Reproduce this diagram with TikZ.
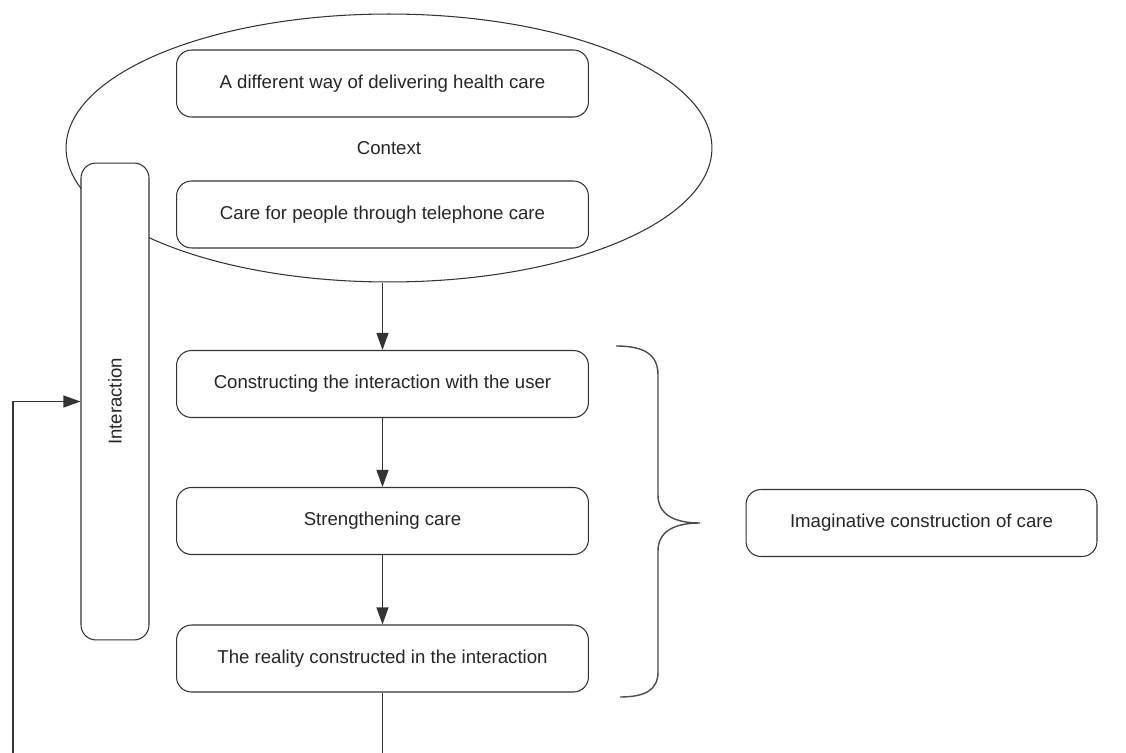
\documentclass[tikz,border=0pt]{standalone}
\usepackage{fontspec}
\setmainfont{Liberation Sans}
\usetikzlibrary{arrows.meta,shapes.geometric}

\begin{document}
\begin{tikzpicture}[x=0.02cm, y=-0.02cm, line width=0.6pt, draw=black!80,
		>={Triangle[length=0.34cm, width=0.24cm]},
		every node/.style={font=\fontsize{10.6}{13}\selectfont, text=black!85},
		stage/.style={draw=black!80, fill=white, rounded corners=0.3cm, minimum width=8.24cm, minimum height=1.34cm},
		ctx/.style={draw=black!80, ellipse, minimum width=12.92cm, minimum height=5.36cm}]
		\useasboundingbox (0, 0) rectangle (1126, 753);
		\node [ctx] (Ctx) at (389, 148) {Context};
		\node [stage] (Diff) at (382.5, 83.5) {A different way of delivering health care};
		\node [stage] (Tel) at (382.5, 214.5) {Care for people through telephone care};
		\node [stage, rotate=90, minimum width=9.54cm, minimum height=1.36cm] (Inter) at (115, 401.5) {Interaction};
		\node [stage] (Cons) at (382.5, 384) {Constructing the interaction with the user};
		\node [stage] (Str) at (382.5, 521) {Strengthening care};
		\node [stage] (Real) at (382.5, 658.5) {The reality constructed in the interaction};
		\node [stage, minimum width=7.02cm] (Imag) at (921.5, 523) {Imaginative construction of care};
		\coordinate (RB) at (382.5, 753);
		\coordinate (LB) at (13, 753);
		\draw [->] (Cons |- Ctx.south) -- (Cons);
		\draw [->] (Cons) -- (Str);
		\draw [->] (Str) -- (Real);
		\draw (Real) -- (RB);
		\draw [->] (LB) |- (Inter.north);
		% brace
		\draw [line width=0.8pt, draw=black!70] (616, 346) .. controls (645, 346) and (658, 355) .. (658, 375) -- (658, 495)
			.. controls (658, 515) and (675, 523) .. (700, 523)
			.. controls (675, 523) and (658, 531) .. (658, 551) -- (658, 672)
			.. controls (658, 690) and (645, 697) .. (620, 697);
\end{tikzpicture}
\end{document}
